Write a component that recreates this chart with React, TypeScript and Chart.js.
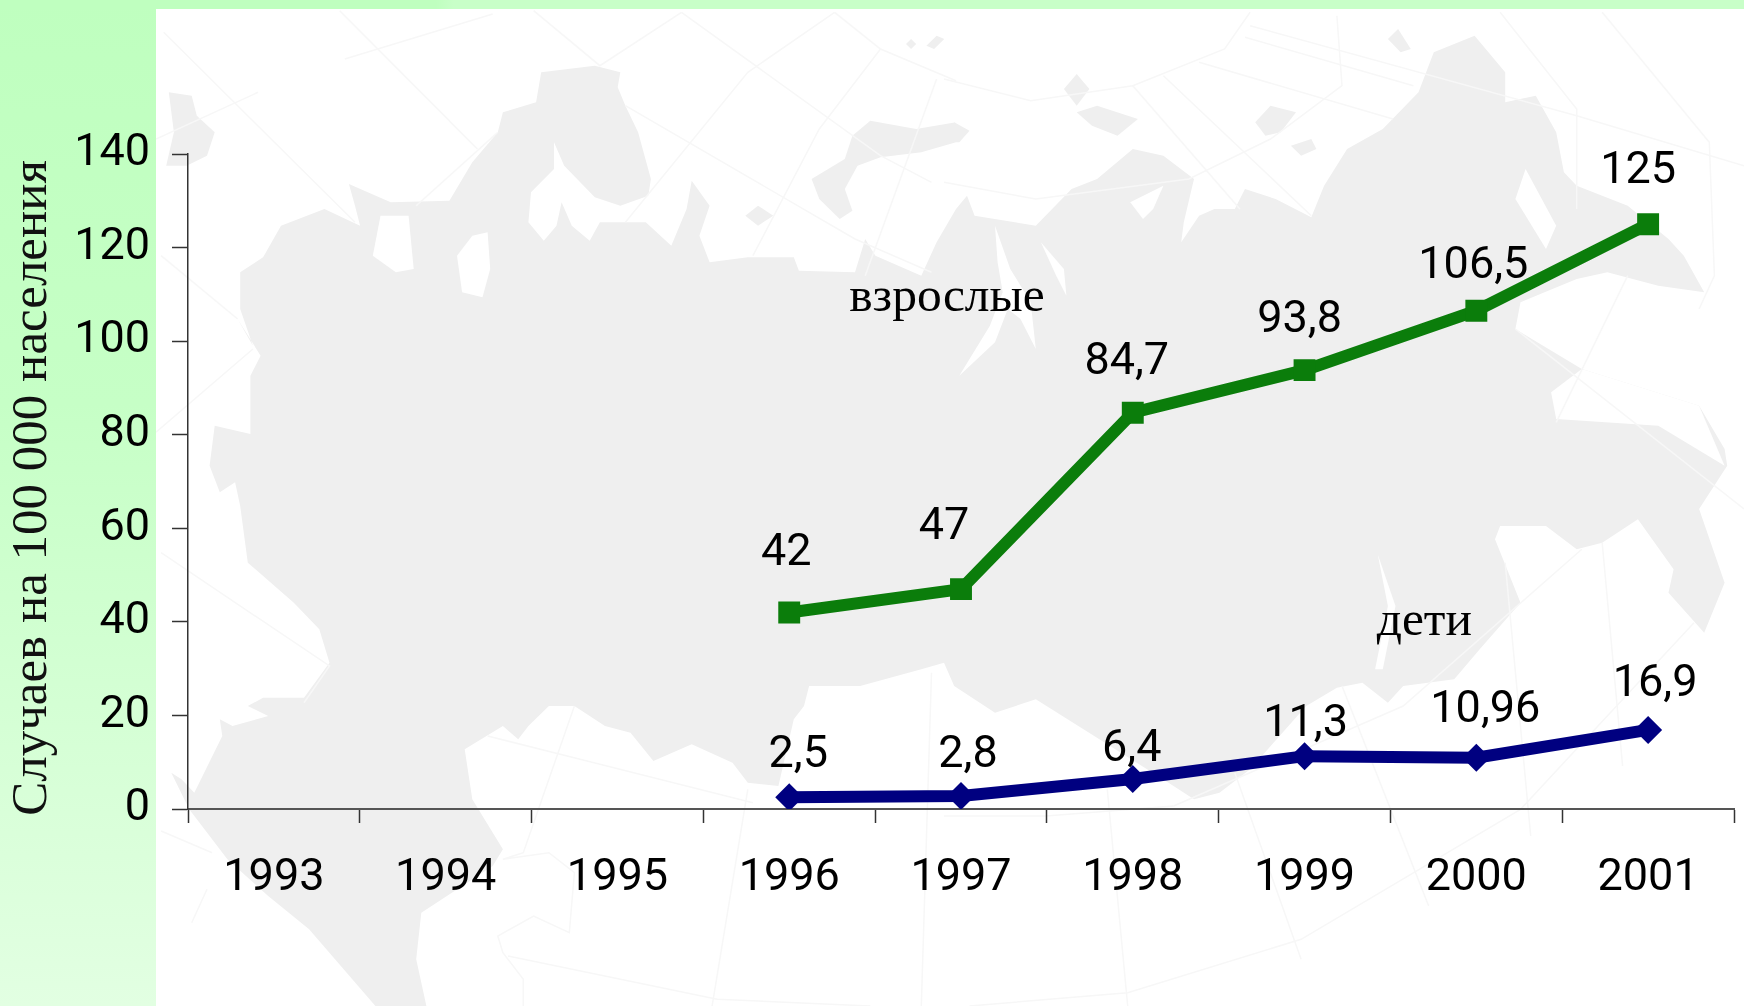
import React, { useEffect, useRef } from "react";
import { Chart, registerables } from "chart.js";

Chart.register(...registerables);

const years = ["1993", "1994", "1995", "1996", "1997", "1998", "1999", "2000", "2001"];
const adults = [null, null, null, 42, 47, 84.7, 93.8, 106.5, 125];
const children = [null, null, null, 2.5, 2.8, 6.4, 11.3, 10.96, 16.9];
const adultLabels = ["", "", "", "42", "47", "84,7", "93,8", "106,5", "125"];
const childLabels = ["", "", "", "2,5", "2,8", "6,4", "11,3", "10,96", "16,9"];
const adultOffsets = [[0, 0], [0, 0], [0, 0], [-3, -59], [-17, -61], [-6, -50], [-5, -49], [-3, -44], [-10, -52]];
const childOffsets = [[0, 0], [0, 0], [0, 0], [9, -42], [7, -40], [-1, -29], [1, -31], [9, -47], [7, -45]];
const yTicks = [0, 20, 40, 60, 80, 100, 120, 140];
const yTitle = "Случаев на 100 000 населения ";

// Decorative backdrop (map silhouette), traced in four panels of the page.
type P = number[];
const NW = (p: P) => [156 + p[0] / 1.96, 9 + p[1] / 3];
const NE = (p: P) => [944 + p[0] / 1.96, 9 + p[1] / 3];
const SW = (p: P) => [156 + p[0] / 1.96, 506 + p[1] / 3];
const SE = (p: P) => [944 + p[0] / 1.96, 506 + p[1] / 3];
const toPath = (pts: number[][], close = true) =>
  "M" + pts.map((p) => p[0].toFixed(1) + " " + p[1].toFixed(1)).join(" L") + (close ? " Z" : "");

const mapOutline = [
  ...[[190,1010],[165,900],[165,790],[210,745],[245,650],[330,600],[400,650],[390,590],[378,525],[460,580],[575,575],[620,460],[670,370],[680,310],[745,280],[755,190],[860,170],[910,190],[905,235],[920,290],[945,370],[970,510],[965,560],[910,590],[860,565],[800,470],[780,400],[780,480],[735,550],[730,640],[760,695],[785,650],[795,580],[815,650],[850,695],[870,640],[960,640],[1010,710],[1040,600],[1050,515],[1085,590],[1065,680],[1085,760],[1160,745],[1250,745],[1260,785],[1370,790],[1390,690],[1410,740],[1500,800],[1530,700],[1568,600]].map(NW),
  ...[[45,560],[60,620],[180,650],[250,540],[300,510],[370,420],[430,440],[490,510],[470,640],[465,700],[500,620],[530,600],[570,600],[590,540],[650,570],[720,625],[745,530],[790,420],[860,360],[930,250],[960,130],[1040,80],[1100,190],[1100,280],[1160,260],[1200,370],[1215,490],[1240,530],[1340,590],[1420,690],[1450,740],[1490,850],[1400,830],[1300,790],[1240,810],[1130,880],[1120,960],[1250,1080],[1480,1190],[1530,1320],[1535,1370],[1480,1500]].map(NE),
  ...[[1530,230],[1490,380],[1420,260],[1430,190],[1360,40],[1290,110],[1240,130],[1180,60],[1090,60],[1080,100],[1130,290],[1050,430],[1000,520],[900,540],[870,590],[820,530],[770,545],[710,600],[600,790],[540,860],[490,880],[440,830],[180,580],[100,620],[20,540],[0,470]].map(SE),
  ...[[1500,490],[1380,540],[1280,540],[1270,600],[1250,640],[1220,840],[1160,830],[1130,770],[1050,715],[975,765],[930,680],[880,660],[820,600],[770,600],[730,660],[710,700],[680,660],[605,730],[620,880],[680,1030],[660,1080],[520,1220],[510,1360],[530,1500],[430,1500],[300,1270],[220,1170],[140,1060],[65,910],[30,800],[50,820],[75,860],[130,690],[125,640],[150,660],[220,630],[180,600],[210,575],[290,575],[340,470],[320,370],[270,290],[180,170],[165,0]].map(SW),
  ...[[155,1420],[125,1450],[105,1370],[115,1250],[185,1275],[185,1100],[205,1040],[160,930]].map(NW),
];

const mapIslands = [
  [[25,250],[70,260],[80,320],[115,370],[100,440],[60,470],[20,470],[35,370]].map(NW),
  [...[[1285,510],[1350,450],[1365,380],[1400,335],[1490,360],[1568,340]].map(NW), ...[[20,340],[50,365],[30,400]].map(NE), ...[[1568,400],[1500,430],[1420,445],[1375,470],[1350,540],[1365,605],[1340,630],[1300,570]].map(NW)],
  [[1155,620],[1180,590],[1210,620],[1180,650]].map(NW),
  [[1470,105],[1480,90],[1490,105],[1480,120]].map(NW),
  [[1510,110],[1530,80],[1545,90],[1525,120]].map(NW),
  [[870,90],[890,60],[915,120],[895,130]].map(NE),
  [[235,240],[260,195],[285,240],[260,290]].map(NE),
  [[260,310],[300,290],[380,330],[340,380],[290,350]].map(NE),
  [[610,340],[640,290],[690,310],[660,370],[630,380]].map(NE),
  [[680,410],[720,390],[730,420],[700,440]].map(NE),
];

const mapWaters = [
  [[440,620],[495,620],[505,780],[470,790],[425,740]].map(NW),
  [[620,680],[650,670],[655,780],[640,865],[600,850],[590,740]].map(NW),
  [[100,650],[130,780],[170,880],[180,1020],[150,930],[125,900],[100,1000],[30,1100],[90,950],[115,850],[105,760]].map(NE),
  [[190,700],[235,780],[240,860],[220,800]].map(NE),
  [[365,580],[430,530],[410,600],[390,630]].map(NE),
  [[1140,480],[1200,650],[1180,720],[1120,570]].map(NE),
  [[1190,1150],[1250,1080],[1480,1190],[1530,1370],[1400,1250],[1200,1230]].map(NE),
].concat([[[850,145],[885,300],[860,490],[845,490],[870,300]].map(SE)]);

const mapLines = [
  [[15,70],[390,640]].map(NW), [[360,5],[630,420]].map(NW), [[740,5],[870,170],[1030,10]].map(NW),
  [[1030,10],[1420,440],[1520,520]].map(NW), [[920,290],[1370,690],[1520,790]].map(NW), [[370,150],[660,15]].map(NW),
  [[0,390],[200,250]].map(NW), [[510,590],[670,370]].map(NW), [[920,640],[1160,190],[1330,10]].map(NW),
  [[1170,740],[1300,360],[1420,120]].map(NW), [[1330,10],[1420,120],[1568,215]].map(NW), [[0,1270],[190,1020]].map(NW),
  [[10,740],[160,930]].map(NW), [[1390,800],[1530,210]].map(NW),
  [[0,210],[170,275],[370,230],[550,120],[600,10]].map(NE), [[0,520],[180,570],[480,510],[640,390],[780,230],[770,20]].map(NE),
  [[370,230],[580,600]].map(NE), [[430,200],[720,620]].map(NE), [[500,160],[880,330]].map(NE), [[590,85],[920,230]].map(NE),
  [[600,50],[1240,320],[1568,470]].map(NE), [[1090,10],[1240,300],[1240,600]].map(NE), [[1290,10],[1500,400],[1510,800],[1480,900]].map(NE),
  [[1120,960],[1568,1500]].map(NE), [[1200,1240],[1340,800]].map(NE),
  [[10,140],[340,480],[290,590]].map(SW), [[10,975],[110,1040]].map(SW), [[100,1150],[70,1250]].map(SW), [[650,690],[1170,890]].map(SW),
  [[820,600],[720,1040],[680,1060],[770,1040],[820,1100],[810,1280],[740,1230],[670,1290],[680,1340],[720,1420],[720,1500]].map(SW),
  [[690,1350],[1100,1480],[1400,1500]].map(SW), [[1160,850],[1090,1500]].map(SW), [[1520,500],[1500,1500]].map(SW),
  [[320,850],[360,1500]].map(SE), [[570,800],[700,1360]].map(SE), [[780,540],[950,1200]].map(SE), [[1290,110],[1330,780]].map(SE),
  [[1100,170],[1150,990]].map(SE), [[1470,350],[1130,910],[700,1300],[360,1460],[50,1500]].map(SE), [[450,900],[900,600],[1250,130]].map(SE),
  [[0,930],[200,930],[450,900]].map(SE),
];

export default function App() {
  const ref = useRef<HTMLCanvasElement>(null);

  useEffect(() => {
    const labelsPlugin = {
      id: "pointAndSeriesLabels",
      afterDatasetsDraw(chart: any) {
        const { ctx, scales } = chart;
        const x = scales.x;
        const y = scales.y;
        ctx.save();
        ctx.fillStyle = "#000";
        ctx.textAlign = "center";
        ctx.textBaseline = "middle";
        ctx.font = "400 45px Roboto";
        const drawSet = (vals: any[], txt: string[], offs: number[][]) => {
          vals.forEach((v, i) => {
            if (v === null) return;
            ctx.fillText(txt[i], x.getPixelForValue(i) + offs[i][0], y.getPixelForValue(v) + offs[i][1]);
          });
        };
        drawSet(adults, adultLabels, adultOffsets);
        drawSet(children, childLabels, childOffsets);
        ctx.font = '49.5px "Liberation Serif"';
        ctx.fillText("взрослые", x.getPixelForValue(4) - 14, y.getPixelForValue(109.3));
        ctx.fillText("дети", x.getPixelForValue(7) - 52, y.getPixelForValue(40));
        ctx.restore();
      },
    };

    const chart = new Chart(ref.current as HTMLCanvasElement, {
      type: "line",
      data: {
        labels: years,
        datasets: [
          {
            label: "взрослые",
            data: adults,
            borderColor: "#0b7d0b",
            backgroundColor: "#0b7d0b",
            borderWidth: 12,
            pointStyle: "rect",
            pointRadius: 15.5,
            pointBorderWidth: 0,
            tension: 0,
            spanGaps: false,
          },
          {
            label: "дети",
            data: children,
            borderColor: "#000080",
            backgroundColor: "#000080",
            borderWidth: 12,
            pointStyle: "rectRot",
            pointRadius: 14,
            pointBorderWidth: 0,
            tension: 0,
            spanGaps: false,
          },
        ],
      },
      options: {
        responsive: false,
        animation: false,
        layout: { autoPadding: false, padding: { left: 0, right: 10, top: 154, bottom: 0 } },
        plugins: { legend: { display: false }, tooltip: { enabled: false } },
        scales: {
          x: {
            type: "category",
            offset: true,
            afterFit(s: any) {
              s.height = 197;
              s.paddingLeft = 0;
              s.paddingRight = 0;
            },
            grid: { offset: true, drawOnChartArea: false, tickLength: 14, tickColor: "#333", tickWidth: 1.5 },
            border: { color: "#555", width: 2 },
            ticks: {
              color: "#000",
              font: { family: "Roboto", size: 45, weight: "400" },
              padding: 29,
              maxRotation: 0,
              autoSkip: false,
            },
          },
          y: {
            type: "linear",
            min: 0,
            max: 140,
            afterBuildTicks(s: any) {
              s.ticks = yTicks.map((value) => ({ value }));
            },
            afterFit(s: any) {
              s.width = 188;
            },
            title: {
              display: true,
              text: yTitle,
              color: "#111",
              font: { family: "Liberation Serif", size: 51 },
              padding: { top: 2, bottom: 0 },
            },
            grid: { drawOnChartArea: false, tickLength: 16, tickColor: "#333", tickWidth: 1.5 },
            border: { color: "#333", width: 1.5 },
            ticks: {
              color: "#000",
              font: { family: "Roboto", size: 45, weight: "400" },
              padding: 22,
            },
          },
        },
      },
      plugins: [labelsPlugin],
    } as any);
    return () => chart.destroy();
  }, []);

  return (
    <div style={{ position: "fixed", left: 0, top: 0, width: 1744, height: 1006, overflow: "hidden", background: "linear-gradient(180deg,#bfffbf 0%,#c6ffc6 40%,#e2ffe2 100%)" }}>
      <div style={{ position: "absolute", left: 0, top: 0, width: 1744, height: 9, background: "linear-gradient(90deg,#bfffbf 0%,#bfffbf 25%,#c8ffc8 26%,#c8ffc8 100%)" }} />
      <div style={{ position: "absolute", left: 156, top: 9, width: 1588, height: 997, background: "#fff" }} />
      <svg viewBox="0 0 1744 1006" width={1744} height={1006} style={{ position: "absolute", left: 0, top: 0 }}>
        <defs>
          <clipPath id="panel"><rect x="156" y="9" width="1588" height="997" /></clipPath>
        </defs>
        <g clipPath="url(#panel)">
          {mapIslands.map((p, i) => <path key={"i" + i} d={toPath(p)} fill="#efefef" />)}
          <path d={toPath(mapOutline)} fill="#efefef" />
          {mapWaters.map((p, i) => <path key={"w" + i} d={toPath(p)} fill="#fff" />)}
          {mapLines.map((p, i) => <path key={"l" + i} d={toPath(p, false)} fill="none" stroke="#f7f7f7" strokeWidth="1.5" />)}
        </g>
      </svg>
      <canvas ref={ref} width={1744} height={1006} style={{ position: "absolute", left: 0, top: 0, display: "block" }} />
    </div>
  );
}
